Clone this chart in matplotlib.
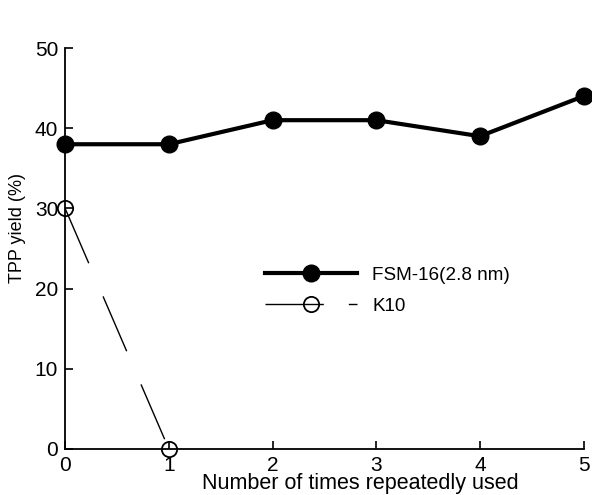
import matplotlib.pyplot as plt
from matplotlib.lines import Line2D

plt.rcParams['font.family'] = ['Liberation Sans', 'DejaVu Sans']

uses = [0, 1, 2, 3, 4, 5]
fsm16 = [38, 38, 41, 41, 39, 44]
k10_uses = [0, 1]
k10 = [30, 0]

fig = plt.figure(figsize=(5.92, 4.95), dpi=100)
ax = fig.add_axes([0.110, 0.093, 0.876, 0.810])

k10_dash = (43, 26)

ax.plot(uses, fsm16, color='black', lw=3, marker='o', ms=12,
        mfc='black', mec='black', clip_on=False, zorder=3)
ax.plot(k10_uses, k10, color='black', lw=1.0, dashes=k10_dash, marker='o',
        ms=11, mfc='none', mec='black', mew=1.3, clip_on=False, zorder=3)

ax.set_xlim(0, 5)
ax.set_ylim(0, 50)
ax.set_xticks(uses)
ax.set_yticks([0, 10, 20, 30, 40, 50])
ax.spines['top'].set_visible(False)
ax.spines['right'].set_visible(False)
ax.spines['left'].set_linewidth(1.3)
ax.spines['bottom'].set_linewidth(1.3)
ax.tick_params(direction='in', length=6, width=1.2, labelsize=15)
ax.tick_params(axis='y', pad=5)
ax.tick_params(axis='x', pad=5)

ax.set_xlabel('Number of times repeatedly used', fontsize=15.5)
ax.xaxis.set_label_coords(0.57, -0.06)
ax.set_ylabel('TPP yield (%)', fontsize=13)
ax.yaxis.set_label_coords(-0.075, 0.55)

handles = [
    Line2D([], [], color='black', lw=3, marker='o', ms=12),
    Line2D([], [], color='black', lw=1.0, dashes=(42, 18), marker='o', ms=11,
           mfc='none', mew=1.3),
]
ax.legend(handles, ['FSM-16(2.8 nm)', 'K10'], frameon=False, fontsize=13.6,
          handlelength=4.9, handletextpad=0.8, loc='center left',
          bbox_to_anchor=(0.352, 0.395), labelspacing=0.75)

fig.savefig('out.png', dpi=100)
